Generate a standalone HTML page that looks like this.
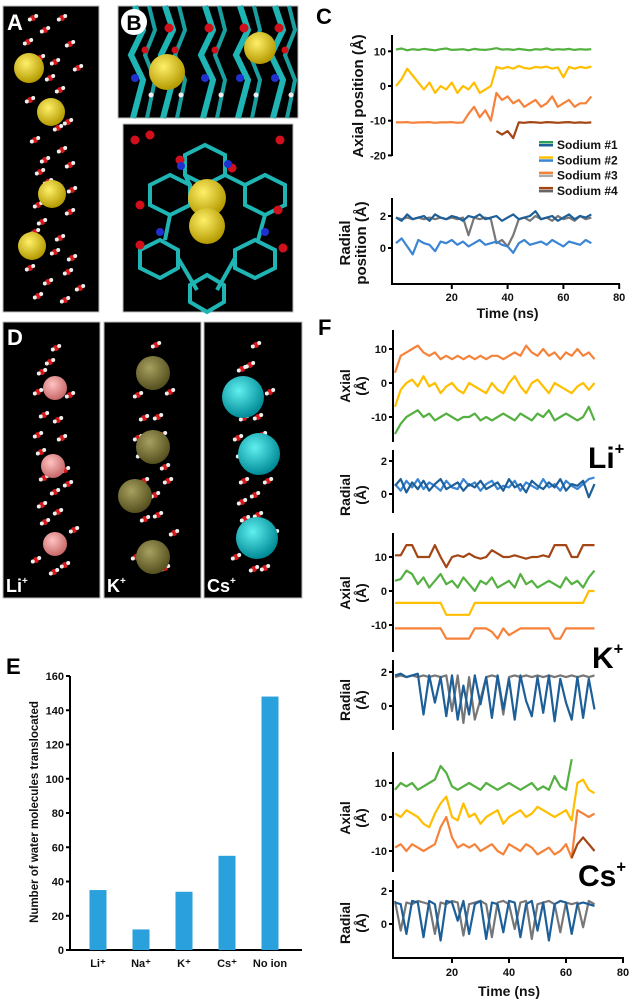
<!DOCTYPE html>
<html><head><meta charset="utf-8">
<style>
body{margin:0;background:#fff;width:638px;height:1007px;overflow:hidden;font-family:"Liberation Sans",Arial,sans-serif}
svg{position:absolute;left:0;top:0}
text{font-family:"Liberation Sans",Arial,sans-serif;font-weight:bold}
</style></head><body>
<svg id="fig" width="638" height="1007" viewBox="0 0 638 1007"></svg>
<script>
// ---------- data ----------
const T = [0,2,4,6,8,10,12,14,16,18,20,22,24,26,28,30,32,34,36,38,40,42,44,46,48,50,52,54,56,58,60,62,64,66,68,70];
// Panel C axial
const cNa1 = [10.5,10.8,10.3,10.6,10.4,10.7,10.5,10.3,10.6,10.8,10.4,10.5,10.6,10.3,10.7,10.5,10.4,10.6,10.9,10.5,10.6,10.4,10.7,10.5,10.3,10.6,10.5,10.8,10.4,10.6,10.5,10.7,10.4,10.6,10.5,10.6];
const cNa2 = [0,2,5,3,1,-1,1,-2,0,-1,1,-2,0,-1,1,-2,-1,0,5.5,5,5.5,5,5.8,5.2,5,5.5,5.3,5.6,5,5.4,2.5,5.5,5,5.5,5.2,5.6];
const cNa3 = [-10.5,-10.5,-10.4,-10.6,-10.5,-10.5,-10.4,-10.6,-10.5,-10.5,-10.4,-10.6,-10.5,-8,-6,-9,-7,-10,-2,-4,-3,-5,-4,-6,-5,-4,-6,-5,-3,-6,-5,-4,-6,-5,-5,-3];
const cNa4 = [null,null,null,null,null,null,null,null,null,null,null,null,null,null,null,null,null,null,-13,-14,-13,-15,-10.5,-10.6,-10.4,-10.5,-10.6,-10.4,-10.5,-10.6,-10.5,-10.4,-10.6,-10.5,-10.6,-10.5];
// Panel C radial
const cR1 = [1.9,1.7,2.1,1.8,1.9,2.0,1.7,2.1,1.9,1.8,2.0,1.9,1.7,2.0,1.9,2.1,1.8,1.9,2.0,1.7,1.9,2.1,1.8,1.9,2.0,2.3,1.8,1.9,2.0,1.7,1.9,2.1,1.8,2.0,1.9,2.1];
const cR2 = [0.3,0.6,0.1,-0.4,0.5,0.3,0.2,-0.2,0.4,0.3,0.5,0.2,0.4,0.1,0.3,0.5,0.2,0.3,0.4,0.2,0.1,-0.3,0.3,0.5,0.2,0.3,0.4,0.2,0.5,0.3,0.1,0.4,0.3,0.2,0.5,0.3];
const cR3 = [1.9,1.8,1.9,1.8,1.9,1.8,1.9,1.8,1.9,1.8,1.9,1.8,1.9,0.8,1.9,1.8,1.9,1.8,0.3,0.5,0.1,0.8,1.8,1.9,1.7,2.0,1.8,1.9,1.7,2.0,1.8,1.9,1.7,2.0,1.8,1.9];
// Panel F Li+
const liAx1 = [3,8,9,10,11,9,8,9,7,8,7,8,7,8,7,8,7,8,8,7,8,9,8,11,9,8,10,8,9,7,9,8,10,8,9,7];
const liAx2 = [-7,-2,0,1,-1,2,-1,0,-3,-1,0,-2,-3,0,-1,-2,-3,0,-2,-3,0,2,-1,-3,0,1,-1,-3,0,-1,-2,-3,-1,0,-2,0];
const liAx3 = [-15,-12,-10,-9,-8,-10,-9,-11,-10,-9,-10,-11,-10,-10,-9,-11,-10,-11,-10,-9,-10,-11,-9,-10,-11,-9,-10,-8,-11,-10,-9,-10,-11,-10,-7,-11];
const liR1 = [0.5,0.9,0.1,0.7,0.3,0.8,0.2,0.6,0.9,0.3,0.5,0.7,0.2,0.6,0.4,0.8,0.3,0.5,0.7,0.2,0.9,0.4,0.6,0.1,0.8,0.5,0.3,0.7,0.4,0.9,0.2,0.6,0.5,0.8,-0.2,0.6];
const liR2 = [0.6,0.2,0.8,0.4,0.9,0.3,0.7,0.5,0.2,0.8,0.4,0.3,0.9,0.5,0.7,0.2,0.6,0.8,0.3,0.5,0.4,0.8,0.2,0.7,0.5,0.3,0.9,0.4,0.6,0.2,0.8,0.5,0.3,0.6,0.9,1.0];
// Panel F K+
const kAx1 = [10.5,10.5,13.5,13.5,10,10,10,13.5,10,7,10,10.5,10,11,10,9.5,10,12,11,10,10,10.5,10,9.5,10,10,10.5,10,13.5,13.5,13.5,10,10,13.5,13.5,13.5];
const kAx2 = [3,3.5,6,5,2,4,1,3,5,2,3,1,4,2,0,3,2,4,1,2,3,1,5,2,3,1,2,3,2,1,4,2,3,1,4,6];
const kAx3 = [-3.5,-3.5,-3.5,-3.5,-3.5,-3.5,-3.5,-3.5,-3.5,-7,-7,-7,-7,-7,-3.5,-3.5,-3.5,-3.5,-3.5,-3.5,-3.5,-3.5,-3.5,-3.5,-3.5,-3.5,-3.5,-3.5,-3.5,-3.5,-3.5,-3.5,-3.5,-3.5,0,0];
const kAx4 = [-11,-11,-11,-11,-11,-11,-11,-11,-11,-14,-14,-14,-14,-14,-11,-11,-11,-12,-14,-11,-13,-12,-11,-11,-11,-11,-11,-11,-14,-14,-11,-11,-11,-11,-11,-11];
const kR1 = [1.8,1.9,1.7,1.8,1.9,-0.5,1.8,0.2,1.7,-0.6,1.8,-0.8,1.2,-0.5,1.8,0.1,1.7,-0.7,1.8,-0.2,1.6,-0.8,1.8,0.3,-0.6,1.7,-0.4,1.8,-0.9,1.6,0.2,-0.8,1.7,-0.7,1.6,-0.2];
const kR2 = [1.7,1.8,1.7,1.8,1.7,1.8,1.7,1.8,1.7,1.8,-0.3,1.8,-1.0,1.7,-0.8,0.4,1.7,1.8,1.7,-0.5,1.7,1.8,1.7,1.8,1.7,1.8,1.7,1.8,1.7,1.8,1.7,1.8,1.7,1.8,1.7,1.8];
// Panel F Cs+
const csAx1 = [8,10,9,10,8,9,10,11,15,13,9,8,9,10,9,8,10,9,8,9,10,9,8,9,10,8,9,8,12,9,8,17,null,null,null,null];
const csAx2 = [1,0,2,1,0,-2,-3,1,4,6,0,-1,4,0,1,-2,0,1,2,-2,0,1,2,0,1,3,2,1,0,1,2,-1,10,11,8,7];
const csAx3 = [-9,-8,-10,-8,-9,-10,-9,-8,-3,0,-6,-9,-8,-9,-8,-10,-9,-8,-10,-11,-8,-9,-10,-8,-9,-11,-10,-9,-11,-10,-8,-12,2,1,0,1];
const csAx4 = [null,null,null,null,null,null,null,null,null,null,null,null,null,null,null,null,null,null,null,null,null,null,null,null,null,null,null,null,null,null,null,-12,-8,-6,-8,-10];
const csR1 = [1.3,1.2,-0.6,1.4,1.3,-0.8,1.4,1.2,-1.0,1.4,1.3,0.2,1.4,-0.6,1.2,1.4,-0.9,1.3,1.2,-0.5,1.4,1.3,-0.8,1.2,1.4,-0.4,1.3,-1.0,1.2,1.4,1.3,-0.6,1.2,1.3,1.2,1.1];
const csR2 = [1.4,-0.4,1.3,1.2,1.4,1.3,1.2,-0.6,1.3,1.2,1.4,1.3,-0.7,1.2,1.3,1.4,1.2,-0.8,1.3,1.4,1.2,-0.3,1.3,1.4,-0.9,1.2,1.3,1.4,1.2,-0.5,1.3,1.2,1.3,-0.2,1.4,1.2];
// Panel E bars
const eCats = ["Li⁺","Na⁺","K⁺","Cs⁺","No ion"];
const eVals = [35,12,34,55,148];
const eTicks = [0,20,40,60,80,100,120,140,160];
const timeTicks = [20,40,60,80];

// ---------- helpers ----------
const NS="http://www.w3.org/2000/svg";
const svg=document.getElementById('fig');
function mk(tag,attrs,parent){const e=document.createElementNS(NS,tag);for(const k in attrs)e.setAttribute(k,attrs[k]);(parent||svg).appendChild(e);return e;}
function txt(x,y,s,size,anchor,fill,parent,rot){const e=mk('text',{x:x,y:y,'font-size':size,'text-anchor':anchor||'start',fill:fill||'#111'},parent);if(rot)e.setAttribute('transform','rotate(-90 '+x+' '+y+')');e.textContent=s;return e;}
function series(xs,ys,vals,color,name,w){
  let d='',pen=false;
  for(let i=0;i<T.length;i++){const v=vals[i];if(v===null){pen=false;continue;}d+=(pen?'L':'M')+xs(T[i]).toFixed(1)+' '+ys(v).toFixed(1);pen=true;}
  const p=mk('path',{d:d,fill:'none',stroke:color,'stroke-width':w||2.2,'stroke-linejoin':'round'});
  
  
  return p;
}
function yAxis(x,y0,y1,scale,ticks,name){
  const g=mk('g',{});
  
  
  mk('line',{x1:x,y1:y0,x2:x,y2:y1,stroke:'#000','stroke-width':2},g);
  ticks.forEach(t=>{const y=scale(t);mk('line',{x1:x-4,y1:y,x2:x,y2:y,stroke:'#000','stroke-width':2},g);txt(x-6,y+4,String(t),11,'end','#111',g);});
}
const C={green:'#55b042',yellow:'#ffbf00',orange:'#f6823a',brown:'#a44515',dblue:'#1d5f98',lblue:'#3a85d4',gray:'#777'};

// ---------- molecular panels ----------
function panel(x,y,w,h,name){const r=mk('rect',{x:x,y:y,width:w,height:h,fill:'#000',stroke:'#bbb','stroke-width':1});}
function water(x,y){mk('circle',{cx:x,cy:y,r:3,fill:'#d8181a'});mk('circle',{cx:x+3.2,cy:y-2,r:2,fill:'#eee'});mk('circle',{cx:x-3.2,cy:y+1.5,r:2,fill:'#eee'});}
function sphere(x,y,r,c1,c2,name){
  const id='g'+Math.round(x)+'_'+Math.round(y);
  const gr=mk('radialGradient',{id:id,cx:'40%',cy:'35%',r:'65%'});
  mk('stop',{offset:'0%','stop-color':c1},gr);mk('stop',{offset:'100%','stop-color':c2},gr);
  const c=mk('circle',{cx:x,cy:y,r:r,fill:'url(#'+id+')'});
  
}
panel(3,6,96,306,'panel-a-image');
[[33,18],[62,18],[45,30],[28,42],[70,44],[40,58],[55,62],[78,68],[50,78],[60,90],[30,100],[68,122],[58,128],[35,140],[62,150],[45,160],[70,165],[40,172],[48,182],[72,190],[38,205],[70,212],[42,222],[35,232],[60,238],[55,252],[72,258],[30,268],[68,272],[48,282],[38,296],[65,300],[80,288]].forEach(p=>water(p[0],p[1]));
sphere(29,68,15,'#fff06a','#b49a00','sodium-ion');sphere(51,112,14,'#fff06a','#b49a00','sodium-ion');sphere(52,194,14,'#fff06a','#b49a00','sodium-ion');sphere(32,246,14,'#fff06a','#b49a00','sodium-ion');
txt(7,30,'A',22,'start','#fff');

panel(118,6,180,112,'panel-b-top-image');
[135,165,205,240,275].forEach(x=>{mk('path',{d:'M'+x+' 6 L'+(x+8)+' 30 L'+(x-4)+' 55 L'+(x+8)+' 80 L'+(x-2)+' 118',stroke:'#1fb5b5','stroke-width':6,fill:'none'});mk('path',{d:'M'+(x+14)+' 6 L'+(x+20)+' 30 L'+(x+10)+' 55 L'+(x+20)+' 80 L'+(x+12)+' 118',stroke:'#1a9fa0','stroke-width':4,fill:'none'});mk('circle',{cx:x+4,cy:28,r:4.5,fill:'#d0101a'});mk('circle',{cx:x,cy:78,r:4,fill:'#2030d0'});mk('circle',{cx:x+10,cy:50,r:3.5,fill:'#d0101a'});mk('circle',{cx:x+16,cy:95,r:2.5,fill:'#eee'});});
sphere(167,72,18,'#fff06a','#b49a00','sodium-ion');sphere(260,48,16,'#fff06a','#b49a00','sodium-ion');
mk('circle',{cx:134,cy:22,r:13,fill:'#fff'});txt(134,30,'B',21,'middle','#000');

panel(123,124,170,188,'panel-b-bottom-image');
mk('path',{d:'M185 155 L205 145 L225 155 L225 175 L205 185 L185 175 Z M150 185 L170 175 L190 185 L190 205 L170 215 L150 205 Z M245 185 L265 175 L285 185 L285 205 L265 215 L245 205 Z M140 250 L160 240 L178 250 L178 268 L160 278 L140 268 Z M235 250 L255 240 L275 250 L275 268 L255 278 L235 268 Z M190 285 L207 275 L224 285 L224 302 L207 312 L190 302 Z M178 258 L197 290 M235 258 L217 290 M170 215 L165 240 M265 215 L258 240 M190 185 L185 175 M245 185 L225 175',stroke:'#1fb5b5','stroke-width':4,fill:'none'});
[[135,140],[140,205],[280,140],[278,210],[150,135],[180,160],[232,168],[140,245],[283,248]].forEach(p=>mk('circle',{cx:p[0],cy:p[1],r:4.5,fill:'#d0101a'}));
[[181,166],[228,164],[160,232],[265,232]].forEach(p=>mk('circle',{cx:p[0],cy:p[1],r:4,fill:'#2030d0'}));
sphere(207,198,19,'#fff06a','#b49a00','sodium-ion');sphere(207,226,18,'#fff06a','#b49a00','sodium-ion');

panel(3,322,97,276,'panel-d-li-image');panel(104,322,97,276,'panel-d-k-image');panel(204,322,98,276,'panel-d-cs-image');
const wD=[[60,348],[50,362],[38,372],[42,392],[70,395],[40,415],[62,420],[38,435],[58,438],[45,452],[65,470],[40,478],[72,484],[55,492],[38,505],[62,512],[45,522],[70,530],[40,560],[65,565],[50,572]];
[0,100,200].forEach(dx=>wD.forEach((p,i)=>water(p[0]+dx+((i%3)-1)*4,p[1]+(dx?((i%2)*6-3):0))));
sphere(55,388,12,'#ffc2c2','#c86868','lithium-ion');sphere(53,466,12,'#ffc2c2','#c86868','lithium-ion');sphere(55,544,12,'#ffc2c2','#c86868','lithium-ion');
sphere(153,373,17,'#a7a060','#55501e','potassium-ion');sphere(153,447,17,'#a7a060','#55501e','potassium-ion');sphere(135,496,17,'#a7a060','#55501e','potassium-ion');sphere(153,557,17,'#a7a060','#55501e','potassium-ion');
sphere(243,397,21,'#60f0f0','#008a96','cesium-ion');sphere(259,454,21,'#60f0f0','#008a96','cesium-ion');sphere(257,538,21,'#60f0f0','#008a96','cesium-ion');
txt(7,345,'D',22,'start','#fff');
function ion(x,y,b,size,fill){const t=txt(x,y,b,size,'start',fill);const s=mk('tspan',{dy:-size*0.45,'font-size':size*0.55},t);s.textContent='+';return t;}
ion(6,592,'Li',18,'#fff');ion(107,592,'K',18,'#fff');ion(207,592,'Cs',18,'#fff');

// ---------- panel C ----------
txt(316,24,'C',22,'start','#000');
const cx=t=>396+t*2.79;
const cyA=v=>86-v*3.47, cyR=v=>248-v*16;
yAxis(392,35,156,cyA,[10,0,-10,-20],'c-axial-y-axis');
yAxis(392,198,284,cyR,[2,0],'c-radial-y-axis');
(function(){const g=mk('g',{});
mk('line',{x1:391,y1:284,x2:620,y2:284,stroke:'#000','stroke-width':2},g);
timeTicks.forEach(t=>{mk('line',{x1:cx(t),y1:284,x2:cx(t),y2:289,stroke:'#000','stroke-width':2},g);txt(cx(t),301,String(t),11,'middle','#111',g);});
txt(cx(40),318,'Time (ns)',14,'middle','#111',g);})();
txt(363,96,'Axial position (Å)',15,'middle','#111',null,true);
txt(350,243,'Radial',15,'middle','#111',null,true);txt(366,243,'position (Å)',15,'middle','#111',null,true);
series(cx,cyA,cNa1,C.green,'c-sodium1-axial');series(cx,cyA,cNa2,C.yellow,'c-sodium2-axial');series(cx,cyA,cNa3,C.orange,'c-sodium3-axial');series(cx,cyA,cNa4,C.brown,'c-sodium4-axial');
series(cx,cyR,cR3,C.gray,'c-sodium3-radial');series(cx,cyR,cR1,C.dblue,'c-sodium1-radial');series(cx,cyR,cR2,C.lblue,'c-sodium2-radial');
[['Sodium #1','#2e9f58','#1d5f98'],['Sodium #2','#ffbf00','#3a85d4'],['Sodium #3','#f6823a','#aaa'],['Sodium #4','#a44515','#666']].forEach((l,i)=>{
  const g=mk('g',{});
  const y=145+i*15.3;mk('rect',{x:539,y:y-4,width:14,height:2.5,fill:l[1]},g);mk('rect',{x:539,y:y-1,width:14,height:2.5,fill:l[2]},g);
  txt(557,y+4,l[0],12,'start','#111',g);});

// ---------- panel F ----------
txt(318,335,'F',22,'start','#000');
const fx=t=>395+t*2.85;
const liA=v=>383-v*3.4, liR=v=>494-v*16.5, kA=v=>591-v*3.4, kR=v=>706-v*17, csA=v=>817-v*3.4, csR=v=>924-v*16.5;
yAxis(393,330,442,liA,[10,0,-10],'li-axial-y-axis');yAxis(393,450,513,liR,[2,0],'li-radial-y-axis');
yAxis(393,533,652,kA,[10,0,-10],'k-axial-y-axis');yAxis(393,660,730,kR,[2,0],'k-radial-y-axis');
yAxis(393,752,872,csA,[10,0,-10],'cs-axial-y-axis');yAxis(393,880,959,csR,[2,0],'cs-radial-y-axis');
(function(){const g=mk('g',{});
mk('line',{x1:392,y1:958,x2:624,y2:958,stroke:'#000','stroke-width':2},g);
timeTicks.forEach(t=>{mk('line',{x1:fx(t),y1:958,x2:fx(t),y2:963,stroke:'#000','stroke-width':2},g);txt(fx(t),976,String(t),11,'middle','#111',g);});
txt(fx(40),996,'Time (ns)',14,'middle','#111',g);})();
[[386,'Axial'],[495,'Radial'],[593,'Axial'],[700,'Radial'],[818,'Axial'],[923,'Radial']].forEach(a=>{txt(350,a[0],a[1],14,'middle','#111',null,true);txt(366,a[0],'(Å)',14,'middle','#111',null,true);});
series(fx,liA,liAx1,C.orange,'li-axial-1');series(fx,liA,liAx2,C.yellow,'li-axial-2');series(fx,liA,liAx3,C.green,'li-axial-3');
series(fx,liR,liR2,C.lblue,'li-radial-2');series(fx,liR,liR1,C.dblue,'li-radial-1');
series(fx,kA,kAx1,C.brown,'k-axial-1');series(fx,kA,kAx2,C.green,'k-axial-2');series(fx,kA,kAx3,C.yellow,'k-axial-3');series(fx,kA,kAx4,C.orange,'k-axial-4');
series(fx,kR,kR2,C.gray,'k-radial-2');series(fx,kR,kR1,C.dblue,'k-radial-1');
series(fx,csA,csAx1,C.green,'cs-axial-1');series(fx,csA,csAx2,C.yellow,'cs-axial-2');series(fx,csA,csAx3,C.orange,'cs-axial-3');series(fx,csA,csAx4,C.brown,'cs-axial-4');
series(fx,csR,csR2,C.gray,'cs-radial-2');series(fx,csR,csR1,C.dblue,'cs-radial-1');
ion(588,468,'Li',30,'#000');ion(592,668,'K',30,'#000');ion(578,886,'Cs',30,'#000');

// ---------- panel E ----------
txt(6,674,'E',22,'start','#000');
const ey=v=>950-v*(274/160);
const ex=i=>98+i*43;
yAxis(70,676,950,ey,eTicks,'e-y-axis');
(function(){const g=mk('g',{});
mk('line',{x1:69,y1:950,x2:302,y2:950,stroke:'#000','stroke-width':2},g);
eCats.forEach((c,i)=>txt(ex(i),967,c,11,'middle','#111',g));})();
txt(38,812,'Number of water molecules translocated',11.5,'middle','#111',null,true);
eVals.forEach((v,i)=>{const r=mk('rect',{x:ex(i)-8.5,y:ey(v),width:17,height:950-ey(v),fill:'#2aa0dc'});

});
</script>
</body></html>
